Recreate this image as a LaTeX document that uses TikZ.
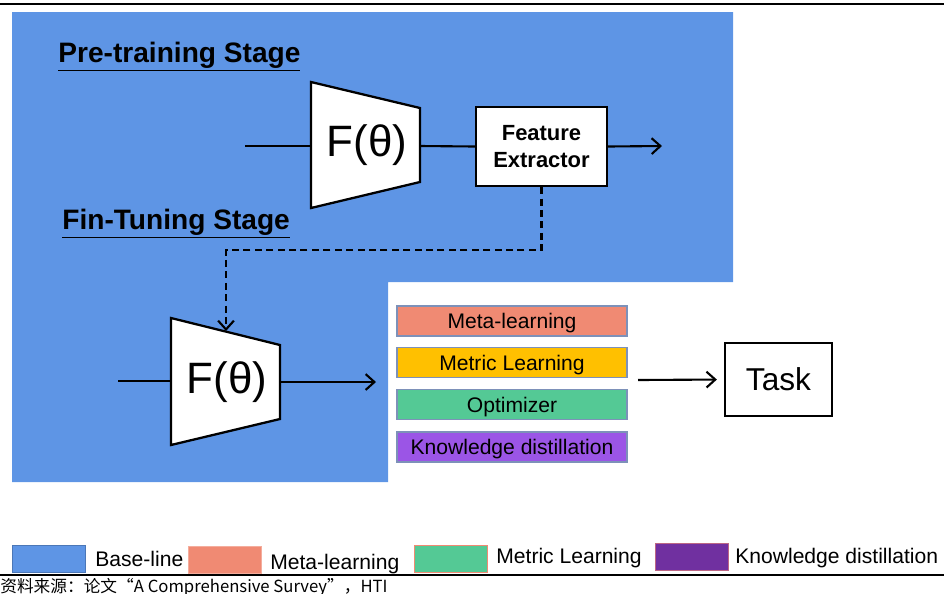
\documentclass[tikz,border=0pt]{standalone}
\usepackage{fontspec}
\setmainfont{Liberation Sans}
\newfontfamily\cjkfont{Noto Sans CJK SC}
\usetikzlibrary{positioning,arrows.meta}
\definecolor{baseBlue}{RGB}{94,149,229}
\definecolor{metaSalmon}{RGB}{240,138,115}
\definecolor{metricGold}{RGB}{255,192,0}
\definecolor{optGreen}{RGB}{84,201,149}
\definecolor{kdViolet}{RGB}{155,85,230}
\definecolor{kdPurple}{RGB}{112,48,160}
\definecolor{boxEdge}{RGB}{125,145,185}
\tikzstyle{stageTitle} = [
 anchor = base west,
 inner sep = 0pt,
 font = \fontsize{16}{19}\selectfont\bfseries
]
\tikzstyle{encoder} = [
 draw,
 line width = 1.3pt,
 fill = white,
 line join = miter
]
\tikzstyle{encLabel} = [
 font = \fontsize{25}{30}\selectfont
]
\tikzstyle{flow} = [
 line width = 1.2pt,
 -{Straight Barb[length=5pt,width=9pt]}
]
\tikzstyle{plain} = [
 line width = 1.2pt
]
\tikzstyle{methodBox} = [
 draw = boxEdge,
 thick,
 minimum width = 4.6cm,
 minimum height = 0.6cm,
 inner sep = 0pt,
 text height = 9pt,
 text depth = 0pt,
 font = \fontsize{12}{14}\selectfont
]
\tikzstyle{legendBox} = [
 draw,
 thick,
 anchor = north west,
 minimum width = 1.46cm,
 minimum height = 0.54cm,
 inner sep = 0pt
]
\tikzstyle{legendText} = [
 anchor = base west,
 inner sep = 0pt,
 font = \fontsize{12}{14}\selectfont
]

\begin{document}
\begin{tikzpicture}[x=0.02cm, y=-0.02cm]
  \useasboundingbox (0,0) rectangle (944,593);
  % rules top and bottom
  \draw[line width=1pt] (0,4) -- (944,4);
  \draw[line width=1pt] (0,575) -- (944,575);

  % base-line area
  \fill[baseBlue] (12,12) -- (733,12) -- (733,282) -- (388,282)
    -- (388,482) -- (12,482) -- cycle;

  % pre-training
  \node [stageTitle] (preTitle) at (58,62) {\underline{Pre-training Stage}};
  \coordinate (ptIn) at (245,146);
  \coordinate (ptL) at (311,146);
  \coordinate (ptR) at (420,146);
  \draw [encoder] (311,82) -- (420,108) -- (420,182) -- (311,208) -- cycle;
  \node [encLabel] (ptEnc) at (367,145) {F(θ)};
  \node [draw, line width=1.3pt, fill=white, align=center,
    minimum width=2.62cm, minimum height=1.58cm, inner sep=0pt,
    font=\fontsize{12.5}{15}\selectfont\bfseries] (fe) at (541.5,146.5)
    {Feature\\Extractor};
  \coordinate (ptOut) at (662,146);
  \draw [plain] (ptIn) -- (ptL);
  \draw [plain] (ptR) -- (fe.west);
  \draw [flow] (fe.east) -- (ptOut);

  % fine-tuning
  \node [stageTitle] (ftTitle) at (62,229) {\underline{Fin-Tuning Stage}};
  \coordinate (ftIn) at (118,381);
  \coordinate (ftL) at (171,381);
  \coordinate (ftR) at (280,382);
  \coordinate (ftOut) at (376,382);
  \coordinate (ftTop) at (226,331);
  \coordinate (dashTurn) at (226,250);
  \draw [encoder] (171,318) -- (280,345) -- (280,419) -- (171,445) -- cycle;
  \node [encLabel] (ftEnc) at (227,382) {F(θ)};
  \draw [plain] (ftIn) -- (ftL);
  \draw [flow] (ftR) -- (ftOut);
  \draw [flow, dash pattern=on 4pt off 2.5pt] (fe.south) |- (dashTurn) -- (ftTop);

  % methods
  \node [methodBox, fill=metaSalmon] (meta) at (512,321) {Meta-learning};
  \node [methodBox, fill=metricGold] (metric) at (512,362.5) {Metric Learning};
  \node [methodBox, fill=optGreen] (opt) at (512,404.5) {Optimizer};
  \node [methodBox, fill=kdViolet] (kd) at (512,447) {Knowledge distillation};
  \node [draw, line width=1.3pt, minimum width=2.14cm, minimum height=1.46cm,
    font=\fontsize{18}{22}\selectfont] (task) at (778.5,379.5) {Task};
  \coordinate (mlOut) at (638,380);
  \draw [flow, shorten >=0.14cm] (mlOut) -- (task.west);

  % legend
  \node [legendBox, draw=baseBlue!80!black, fill=baseBlue] (lgBase) at (12,545) {};
  \node [legendText] (lgBaseTxt) at (95,566) {Base-line};
  \node [legendBox, draw=metaSalmon!70, fill=metaSalmon] (lgMeta) at (188,546) {};
  \node [legendText] (lgMetaTxt) at (270,569) {Meta-learning};
  \node [legendBox, draw=metaSalmon, fill=optGreen] (lgMetric) at (414,545) {};
  \node [legendText] (lgMetricTxt) at (496,563) {Metric Learning};
  \node [legendBox, draw=metaSalmon!60!kdPurple, fill=kdPurple] (lgKd) at (655,543) {};
  \node [legendText] (lgKdTxt) at (735,563) {Knowledge distillation};

  % source
  \node [anchor=base west, inner sep=0pt, font=\cjkfont\fontsize{9.5}{11}\selectfont]
    (source) at (0,592) {资料来源：论文“A Comprehensive Survey”，HTI};
\end{tikzpicture}
\end{document}
